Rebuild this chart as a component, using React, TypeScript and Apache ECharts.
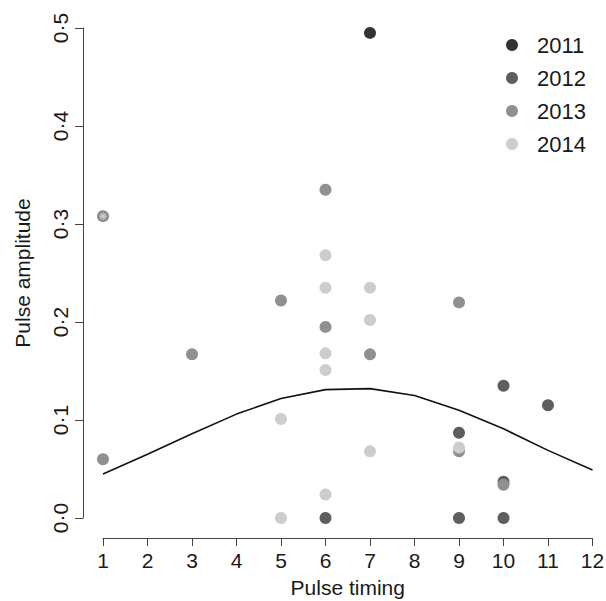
import React, { useEffect, useRef } from "react";
import * as echarts from "echarts";

const years = ["2011", "2012", "2013", "2014"];
const yearColors = ["#333333", "#5e5e5e", "#909090", "#cdcdcd"];

const x2011 = [7];
const y2011 = [0.495];
const x2012 = [6, 9, 9, 10, 10, 10, 11];
const y2012 = [0, 0.087, 0, 0.135, 0.037, 0, 0.115];
const x2013 = [1, 3, 5, 6, 6, 7, 9, 9, 10];
const y2013 = [0.06, 0.167, 0.222, 0.335, 0.195, 0.167, 0.22, 0.068, 0.034];
const x2014 = [5, 5, 6, 6, 6, 6, 6, 7, 7, 7, 9];
const y2014 = [0.101, 0, 0.268, 0.235, 0.168, 0.151, 0.024, 0.235, 0.202, 0.068, 0.072];

const outlierX = [1];
const outlierY = [0.308];

const curveX = [1, 2, 3, 4, 5, 6, 7, 8, 9, 10, 11, 12];
const curveY = [0.045, 0.065, 0.086, 0.106, 0.122, 0.131, 0.132, 0.125, 0.11, 0.091, 0.069, 0.049];

const FONT = "'Liberation Sans', Arial, sans-serif";
const ASTERISK =
  "path://M-5,-0.7L5,-0.7L5,0.7L-5,0.7Z M-0.7,-5L0.7,-5L0.7,5L-0.7,5Z M-3.04,-4.03L4.03,3.04L3.04,4.03L-4.03,-3.04Z M-4.03,3.04L3.04,-4.03L4.03,-3.04L-3.04,4.03Z";

const zip = (xs: number[], ys: number[]) => xs.map((x, i) => [x, ys[i]]);

export default function App() {
  const ref = useRef<HTMLDivElement>(null);
  useEffect(() => {
    if (!ref.current) return;
    const chart = echarts.init(ref.current, undefined, { renderer: "svg" });
    const yearData = [zip(x2011, y2011), zip(x2012, y2012), zip(x2013, y2013), zip(x2014, y2014)];
    const option: any = {
      animation: false,
      backgroundColor: "#ffffff",
      textStyle: { fontFamily: FONT },
      grid: {
        left: 103,
        right: 13.5,
        top: 28,
        bottom: 83,
        containLabel: false,
        outerBoundsMode: "none",
      },
      legend: {
        orient: "vertical",
        left: 501,
        top: 29,
        itemWidth: 40,
        itemHeight: 12,
        itemGap: 11,
        icon: "circle",
        data: years,
        textStyle: { fontSize: 22, color: "#1a1a1a", fontFamily: FONT },
      },
      xAxis: {
        type: "value",
        min: 1,
        max: 12,
        interval: 1,
        offset: 20,
        name: "Pulse timing",
        nameLocation: "middle",
        nameGap: 39,
        nameTextStyle: { fontSize: 21, color: "#1a1a1a", fontFamily: FONT },
        axisLine: { show: true, onZero: false, lineStyle: { color: "#444", width: 1 } },
        axisTick: { show: true, length: 8, inside: false, lineStyle: { color: "#444" } },
        axisLabel: { fontSize: 21, color: "#1a1a1a", margin: 12, fontFamily: FONT },
        splitLine: { show: false },
      },
      yAxis: {
        type: "value",
        min: 0,
        max: 0.5,
        interval: 0.1,
        offset: 20,
        name: "Pulse amplitude",
        nameLocation: "middle",
        nameGap: 50,
        nameRotate: 90,
        nameTextStyle: { fontSize: 21, color: "#1a1a1a", fontFamily: FONT },
        axisLine: { show: true, onZero: false, lineStyle: { color: "#444", width: 1 } },
        axisTick: { show: true, length: 8, inside: false, lineStyle: { color: "#444" } },
        axisLabel: {
          fontSize: 21,
          color: "#1a1a1a",
          margin: 12,
          rotate: 90,
          fontFamily: FONT,
          formatter: (v: number) => v.toFixed(1).replace(".", "\u00b7"),
        },
        splitLine: { show: false },
      },
      series: [
        {
          type: "line",
          data: zip(curveX, curveY),
          showSymbol: false,
          symbol: "none",
          lineStyle: { color: "#111", width: 1.6 },
          silent: true,
          z: 2,
        },
        ...years.map((y, i) => ({
          type: "scatter",
          name: y,
          data: yearData[i],
          symbol: "circle",
          symbolSize: 12,
          clip: false,
          itemStyle: { color: yearColors[i], opacity: 1 },
          z: 3,
        })),
        {
          type: "scatter",
          name: "outlier",
          data: zip(outlierX, outlierY),
          symbol: "circle",
          symbolSize: 12,
          clip: false,
          itemStyle: { color: "#6b6b6b" },
          z: 4,
        },
        {
          type: "scatter",
          name: "outlierMark",
          data: zip(outlierX, outlierY),
          symbol: ASTERISK,
          symbolSize: 8,
          clip: false,
          itemStyle: { color: "#dedede" },
          z: 5,
        },
      ],
    };
    chart.setOption(option);
    return () => chart.dispose();
  }, []);
  return (
    <div
      ref={ref}
      style={{ position: "fixed", left: 0, top: 0, width: 606, height: 601, background: "#fff" }}
    />
  );
}
